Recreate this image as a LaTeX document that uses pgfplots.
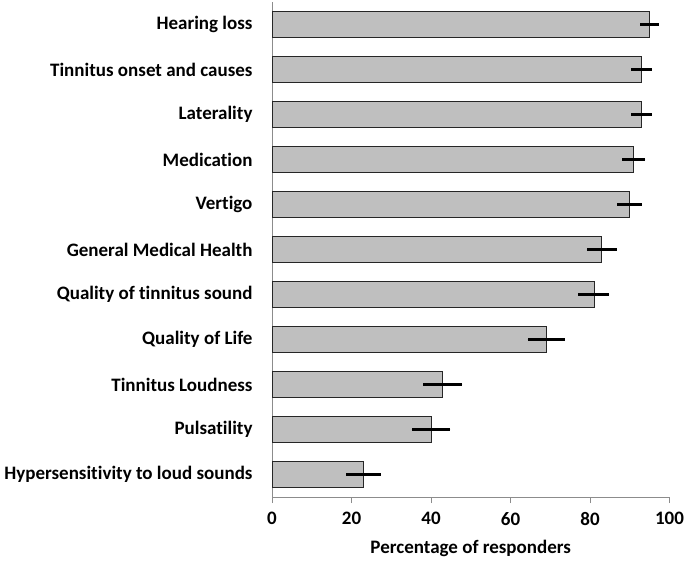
\documentclass[border=0pt]{standalone}
\usepackage{fontspec}
\setmainfont{Carlito}[Ligatures=NoCommon]
\usepackage{pgfplots}
\pgfplotsset{compat=1.18}
\pgfplotstableread{
c v e
0 23 4.3
1 40 4.9
2 43 4.9
3 69 4.7
4 81 3.9
5 83 3.8
6 90 3.1
7 91 2.9
8 93 2.6
9 93 2.6
10 95 2.3
}\datatable
\begin{document}
\begin{tikzpicture}
\useasboundingbox (0,0) rectangle (687pt,562pt);
\begin{axis}[
  at={(272pt,65pt)}, anchor=south west,
  scale only axis, width=397.5pt, height=495pt,
  xbar, bar width=26pt,
  xmin=0, xmax=100, ymin=-0.5, ymax=10.5,
  axis x line*=bottom, axis y line*=left,
  axis line style={draw=black!45, line width=1pt, -},
  xtick={0,20,...,100}, ytick={0,...,10},
  yticklabels={Hypersensitivity to loud sounds, Pulsatility, Tinnitus Loudness, Quality of Life, Quality of tinnitus sound, General Medical Health, Vertigo, Medication, Laterality, Tinnitus onset and causes, Hearing loss},
  ytick style={draw=none},
  yticklabel style={xshift=-10pt},
  xticklabel style={yshift=-6pt},
  xlabel style={yshift=-8pt},
  x tick style={draw=black!45, line width=1pt},
  major tick length=6pt, tick align=outside,
  font=\fontsize{19}{22}\selectfont\bfseries,
  /pgf/number format/assume math mode=true,
  xlabel={Percentage of responders},
  clip=false,
]
\addplot[fill=black!25, draw=black!85, line width=0.9pt,
  error bars/.cd, x dir=both, x explicit, error mark=none,
  error bar style={line width=2.6pt, black}]
  table[x=v, y=c, x error=e] {\datatable};
\end{axis}
\end{tikzpicture}
\end{document}
